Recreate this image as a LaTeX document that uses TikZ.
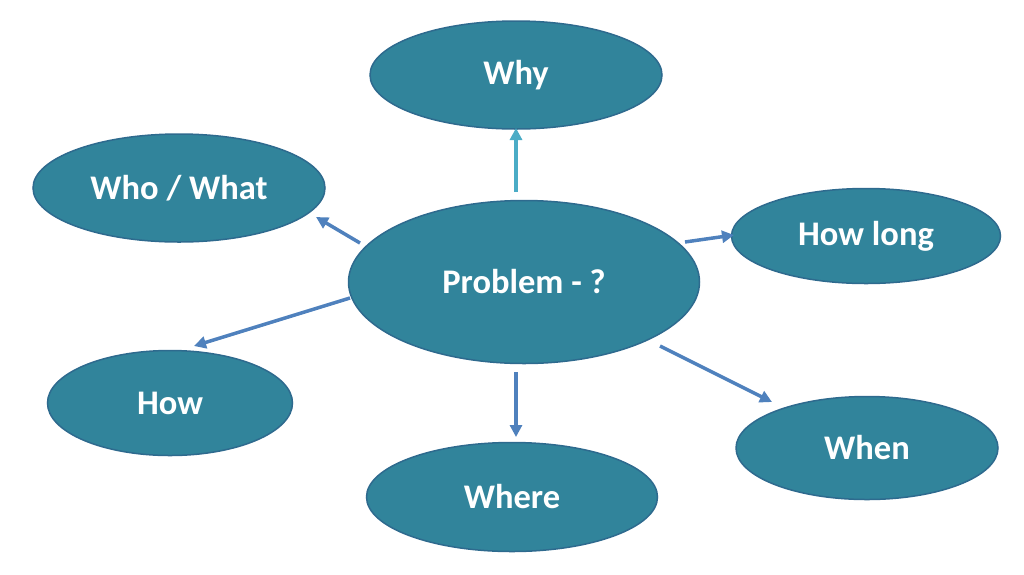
\documentclass[tikz,border=0pt]{standalone}
\usepackage{fontspec}
\setmainfont{Carlito}
\usetikzlibrary{shapes.geometric,arrows.meta}
\definecolor{bubfill}{HTML}{31849B}
\definecolor{bubedge}{HTML}{2E6A8E}
\definecolor{arrblue}{HTML}{4F81BD}
\definecolor{arrteal}{HTML}{4BACC6}
\tikzset{
  bubble/.style={ellipse, draw=bubedge, line width=1.5pt, fill=bubfill, inner sep=0pt,
    text=white, font=\fontsize{34.5}{40}\selectfont\bfseries},
  conn/.style={line width=3.5pt, -{Triangle[length=12pt,width=12pt]}},
}
\begin{document}
\begin{tikzpicture}[x=1pt,y=-1pt]
\useasboundingbox (0,0) rectangle (1024,574);
\node[bubble, minimum width=292pt, minimum height=108pt] (why) at (516,75) {Why};
\node[bubble, minimum width=292pt, minimum height=108pt] (who) at (179,188) {Who / What};
\node[bubble, minimum width=351pt, minimum height=163pt] (prob) at (524,282) {Problem - ?};
\node[bubble, minimum width=269pt, minimum height=95pt] (long) at (866,236) {How long};
\node[bubble, minimum width=245pt, minimum height=105pt] (how) at (170,403) {How};
\node[bubble, minimum width=291pt, minimum height=109pt] (where) at (512,497) {Where};
\node[bubble, minimum width=262pt, minimum height=103pt] (when) at (867,448) {When};
\coordinate (s1) at (516,192); \coordinate (e1) at (516,128);
\coordinate (s2) at (360,243); \coordinate (e2) at (316,217);
\coordinate (s3) at (685,242); \coordinate (e3) at (734,235);
\coordinate (s4) at (350,298); \coordinate (e4) at (194,346);
\coordinate (s5) at (516,372); \coordinate (e5) at (516,437);
\coordinate (s6) at (660,346); \coordinate (e6) at (772,402);
\draw[conn, color=arrteal] (s1) -- (e1);
\draw[conn, color=arrblue] (s2) -- (e2);
\draw[conn, color=arrblue] (s3) -- (e3);
\draw[conn, color=arrblue] (s4) -- (e4);
\draw[conn, color=arrblue] (s5) -- (e5);
\draw[conn, color=arrblue] (s6) -- (e6);
\end{tikzpicture}
\end{document}
